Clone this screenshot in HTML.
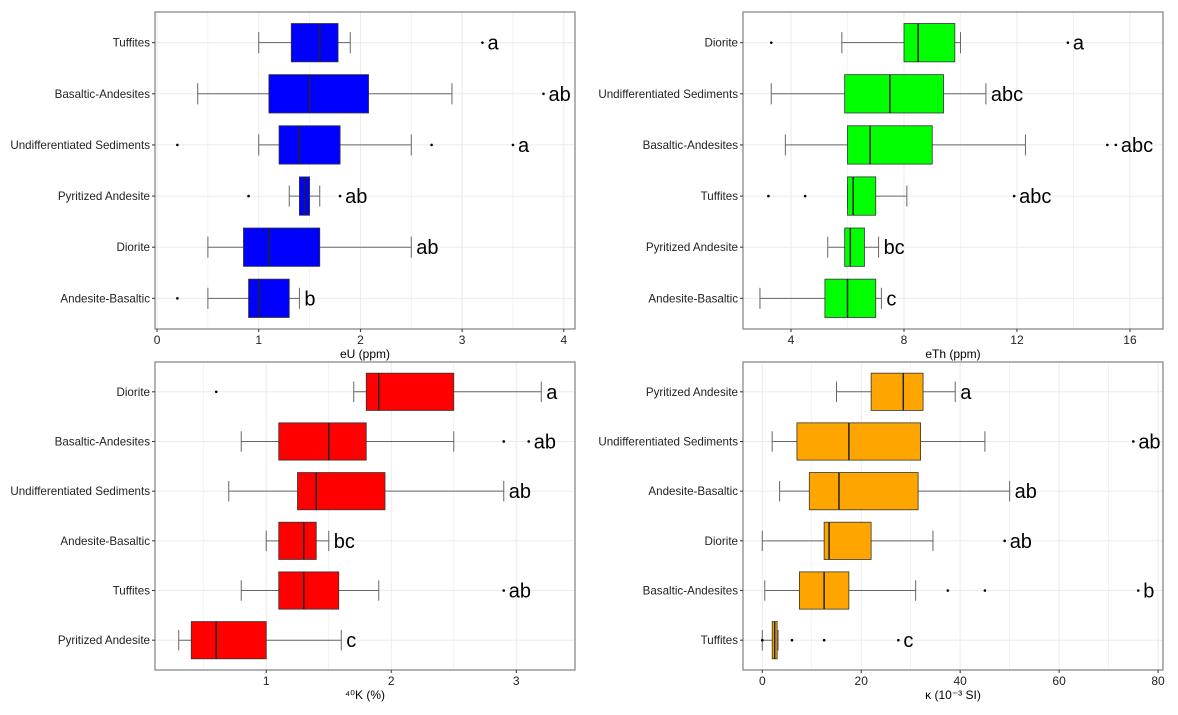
<!DOCTYPE html>
<html><head><meta charset="utf-8"><style>
body{margin:0;background:#fff;}
svg{display:block;font-family:"Liberation Sans",Arial,sans-serif;}
</style></head><body>
<svg id="c" width="1178" height="715" viewBox="0 0 1178 715"></svg>
<script>
const panels=[
 {name:'eu',x0:155,x1:575,y0:12,y1:329,vmin:-0.02,vmax:4.11,ticks:[0,1,2,3,4],title:'eU (ppm)',color:'#0000ff'},
 {name:'eth',x0:743,x1:1163,y0:12,y1:329,vmin:2.3,vmax:17.17,ticks:[4,8,12,16],title:'eTh (ppm)',color:'#00ff00'},
 {name:'k40',x0:155,x1:575,y0:362,y1:670,vmin:0.11,vmax:3.47,ticks:[1,2,3],title:'⁴⁰K (%)',color:'#ff0000'},
 {name:'kappa',x0:743,x1:1163,y0:362,y1:670,vmin:-3.9,vmax:81,ticks:[0,20,40,60,80],title:'κ (10⁻³ SI)',color:'#ffa500'}
];
const cats=[
 ['Tuffites','Basaltic-Andesites','Undifferentiated Sediments','Pyritized Andesite','Diorite','Andesite-Basaltic'],
 ['Diorite','Undifferentiated Sediments','Basaltic-Andesites','Tuffites','Pyritized Andesite','Andesite-Basaltic'],
 ['Diorite','Basaltic-Andesites','Undifferentiated Sediments','Andesite-Basaltic','Tuffites','Pyritized Andesite'],
 ['Pyritized Andesite','Undifferentiated Sediments','Andesite-Basaltic','Diorite','Basaltic-Andesites','Tuffites']
];
// [whiskerLow, q1, median, q3, whiskerHigh]
const stats=[
 [[1.0,1.32,1.6,1.78,1.9],[0.4,1.1,1.5,2.08,2.9],[1.0,1.2,1.4,1.8,2.5],[1.3,1.4,1.45,1.5,1.6],[0.5,0.85,1.1,1.6,2.5],[0.5,0.9,1.0,1.3,1.4]],
 [[5.8,8.0,8.5,9.8,10.0],[3.3,5.9,7.5,9.4,10.9],[3.8,6.0,6.8,9.0,12.3],[6.0,6.0,6.2,7.0,8.1],[5.3,5.9,6.1,6.6,7.1],[2.9,5.2,6.0,7.0,7.2]],
 [[1.7,1.8,1.9,2.5,3.2],[0.8,1.1,1.5,1.8,2.5],[0.7,1.25,1.4,1.95,2.9],[1.0,1.1,1.3,1.4,1.5],[0.8,1.1,1.3,1.58,1.9],[0.3,0.4,0.6,1.0,1.6]],
 [[15,22,28.5,32.5,39],[2,7,17.5,32,45],[3.5,9.5,15.5,31.5,50],[0,12.5,13.5,22,34.5],[0.5,7.5,12.5,17.5,31],[0,2,2.5,3,3.2]]
];
const outliers=[
 [[3.2],[3.8],[0.2,2.7,3.5],[0.9,1.8],[],[0.2]],
 [[3.3,13.8],[],[15.2,15.5],[3.2,4.5,11.9],[],[]],
 [[0.6],[2.9,3.1],[],[],[2.9],[]],
 [[],[75],[],[49],[37.5,45,76],[0,6,12.5,27.5]]
];
const letters=[
 ['a','ab','a','ab','ab','b'],
 ['a','abc','abc','abc','bc','c'],
 ['a','ab','ab','bc','ab','c'],
 ['a','ab','ab','ab','b','c']
];
const svg=document.getElementById('c');
const NS='http://www.w3.org/2000/svg';
function mk(t,a,p){const e=document.createElementNS(NS,t);for(const k in a)e.setAttribute(k,a[k]);(p||svg).appendChild(e);return e;}
panels.forEach((P,pi)=>{
 const g=mk('g',{});
 
 
 const sx=v=>P.x0+(v-P.vmin)/(P.vmax-P.vmin)*(P.x1-P.x0);
 const n=cats[pi].length;const step=(P.y1-P.y0)/(n+0.2);
 const sy=i=>P.y0+step*(i+0.6);
 const t=P.ticks;const d=t[1]-t[0];
 for(let v=t[0]-d;v<=t[t.length-1]+d;v+=d/2){const x=sx(v);if(x<=P.x0||x>=P.x1)continue;
  const l=mk('line',{x1:x,x2:x,y1:P.y0,y2:P.y1,stroke:'#ebebeb','stroke-width':Math.abs((v-t[0])/d%1)<1e-6?1:0.6},g);
  }
 for(let i=0;i<n;i++){mk('line',{x1:P.x0,x2:P.x1,y1:sy(i),y2:sy(i),stroke:'#ebebeb','stroke-width':1},g);}
 const fr=mk('rect',{x:P.x0,y:P.y0,width:P.x1-P.x0,height:P.y1-P.y0,fill:'none',stroke:'#7f7f7f','stroke-width':1.2},g);
 
 t.forEach(v=>{const x=sx(v);mk('line',{x1:x,x2:x,y1:P.y1,y2:P.y1+3,stroke:'#333'},g);
  const tx=mk('text',{x:x,y:P.y1+15,'text-anchor':'middle','font-size':12,fill:'#222'},g);tx.textContent=v;
  });
 const ti=mk('text',{x:(P.x0+P.x1)/2,y:P.y1+29,'text-anchor':'middle','font-size':12,fill:'#000'},g);ti.textContent=P.title;
 
 const bh=step*0.375;
 cats[pi].forEach((c,i)=>{
  const y=sy(i);const s=stats[pi][i];
  const lb=mk('text',{x:P.x0-5,y:y+4,'text-anchor':'end','font-size':11.6,fill:'#222'},g);lb.textContent=c;
  
  mk('line',{x1:P.x0,x2:P.x0-3,y1:y,y2:y,stroke:'#333'},g);
  const bg=mk('g',{},g);
  
  
  mk('line',{x1:sx(s[0]),x2:sx(s[4]),y1:y,y2:y,stroke:'#666'},bg);
  mk('line',{x1:sx(s[0]),x2:sx(s[0]),y1:y-bh*0.55,y2:y+bh*0.55,stroke:'#666'},bg);
  mk('line',{x1:sx(s[4]),x2:sx(s[4]),y1:y-bh*0.55,y2:y+bh*0.55,stroke:'#666'},bg);
  mk('rect',{x:sx(s[1]),y:y-bh,width:Math.max(1,sx(s[3])-sx(s[1])),height:2*bh,fill:P.color,stroke:'#333','stroke-width':0.8},bg);
  mk('line',{x1:sx(s[2]),x2:sx(s[2]),y1:y-bh,y2:y+bh,stroke:'#222','stroke-width':1.5},bg);
  let maxx=sx(s[4]);
  outliers[pi][i].forEach(o=>{const c2=mk('circle',{cx:sx(o),cy:y,r:1.3,fill:'#000'},bg);
   maxx=Math.max(maxx,sx(o));});
  const lt=mk('text',{x:maxx+5,y:y+7,'font-size':20,fill:'#000'},g);lt.textContent=letters[pi][i];
  
 });
});
</script>
</body></html>
